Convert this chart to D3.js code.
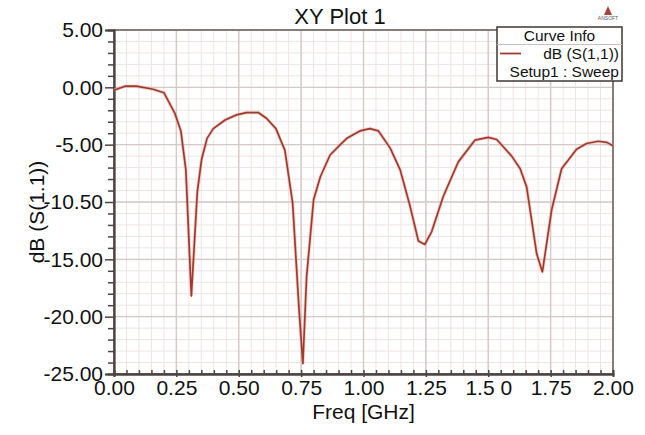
<!DOCTYPE html>
<html>
<head>
<meta charset="utf-8">
<script src="https://cdn.jsdelivr.net/npm/d3@7"></script>
<style>
  body { margin: 0; background: #fff; }
  svg { display: block; }
</style>
</head>
<body>
<div id="chart"></div>
<script>
// Data
var freqs = [0.000, 0.044, 0.090, 0.157, 0.200, 0.244, 0.268, 0.288, 0.310, 0.334, 0.351, 0.373, 0.398, 0.445, 0.491, 0.531,
             0.578, 0.611, 0.649, 0.685, 0.716, 0.742, 0.757, 0.772, 0.800, 0.827, 0.866, 0.907, 0.933, 0.986, 1.026,
             1.060, 1.107, 1.147, 1.187, 1.220, 1.246, 1.273, 1.320, 1.380, 1.447, 1.500, 1.534, 1.594, 1.628, 1.654,
             1.694, 1.717, 1.754, 1.794, 1.854, 1.894, 1.941, 1.975, 2.000];
var s11 = [-0.25, 0.10, 0.10, -0.17, -0.47, -2.27, -3.80, -7.20, -18.20, -9.10, -6.30, -4.45, -3.60, -2.85, -2.40, -2.20,
           -2.20, -2.70, -3.60, -5.50, -10.10, -19.50, -24.10, -16.50, -9.80, -7.80, -5.90, -5.00, -4.45, -3.80, -3.60,
           -3.80, -5.30, -7.20, -10.40, -13.40, -13.70, -12.60, -9.50, -6.50, -4.60, -4.36, -4.55, -6.00, -7.10, -8.70,
           -14.50, -16.10, -10.70, -7.10, -5.40, -4.90, -4.70, -4.80, -5.10];

var xTickValues = [0, 0.25, 0.5, 0.75, 1.0, 1.25, 1.5, 1.75, 2.0];
var xTickLabels = ['0.00', '0.25', '0.50', '0.75', '1.00', '1.25', '1.5 0', '1.75', '2.00'];
var yTickValues = [5, 0, -5, -10, -15, -20, -25];
var yTickLabels = ['5.00', '0.00', '-5.00', '-10.50', '-15.00', '-20.00', '-25.00'];
var legendLines = ['Curve Info', 'dB (S(1,1))', 'Setup1 : Sweep'];

var attrs = {
  svgWidth: 645,
  svgHeight: 435,
  marginTop: 30,
  marginLeft: 114,
  marginRight: 32,
  marginBottom: 61,
  curveColor: '#a03a2c',
  axisColor: '#4d4340',
  majorGrid: '#d6c9c6',
  minorGrid: '#ede5e3',
  font: 'Liberation Sans, Arial, sans-serif'
};

var calc = {};
calc.width = attrs.svgWidth - attrs.marginLeft - attrs.marginRight;
calc.height = attrs.svgHeight - attrs.marginTop - attrs.marginBottom;

var x = d3.scaleLinear().domain([0, 2]).range([0, calc.width]);
var y = d3.scaleLinear().domain([-25, 5]).range([calc.height, 0]);

var svg = d3.select('#chart').append('svg')
  .attr('width', attrs.svgWidth)
  .attr('height', attrs.svgHeight)
  .attr('font-family', attrs.font);

var chart = svg.append('g')
  .attr('transform', 'translate(' + attrs.marginLeft + ',' + attrs.marginTop + ')');

// grid (minor every 0.05 GHz / 1 dB, major on labelled ticks)
var xMinor = d3.range(0, 2.0001, 0.05);
var yMinor = d3.range(-25, 5.0001, 1);

chart.append('g').selectAll('line').data(xMinor).enter().append('line')
  .attr('x1', d => x(d)).attr('x2', d => x(d))
  .attr('y1', 0).attr('y2', calc.height)
  .attr('stroke', attrs.minorGrid).attr('stroke-width', 1);
chart.append('g').selectAll('line').data(yMinor).enter().append('line')
  .attr('y1', d => y(d)).attr('y2', d => y(d))
  .attr('x1', 0).attr('x2', calc.width)
  .attr('stroke', attrs.minorGrid).attr('stroke-width', 1);
chart.append('g').selectAll('line').data(xTickValues).enter().append('line')
  .attr('x1', d => x(d)).attr('x2', d => x(d))
  .attr('y1', 0).attr('y2', calc.height)
  .attr('stroke', attrs.majorGrid).attr('stroke-width', 1.4);
chart.append('g').selectAll('line').data(yTickValues).enter().append('line')
  .attr('y1', d => y(d)).attr('y2', d => y(d))
  .attr('x1', 0).attr('x2', calc.width)
  .attr('stroke', attrs.majorGrid).attr('stroke-width', 1.4);

// border
chart.append('rect')
  .attr('width', calc.width).attr('height', calc.height)
  .attr('fill', 'none').attr('stroke', '#6a605d').attr('stroke-width', 1.5);

// y axis
chart.append('g')
  .call(d3.axisLeft(y).tickValues(yTickValues).tickSize(9).tickFormat((d, i) => yTickLabels[i]).tickPadding(2));
chart.append('g')
  .call(d3.axisLeft(y).tickValues(yMinor.filter(d => yTickValues.indexOf(d) < 0)).tickSize(6).tickFormat(''));

// x axis
chart.append('g')
  .attr('transform', 'translate(0,' + calc.height + ')')
  .call(d3.axisBottom(x).tickValues(xTickValues).tickSize(3).tickFormat((d, i) => xTickLabels[i]).tickPadding(3));
chart.append('g')
  .attr('transform', 'translate(0,' + calc.height + ')')
  .call(d3.axisTop(x).tickValues(xMinor).tickSize(4).tickFormat(''));

chart.selectAll('.domain').attr('stroke', attrs.axisColor).attr('stroke-width', 1.8);
chart.selectAll('.tick line').attr('stroke', attrs.axisColor).attr('stroke-width', 1.5);
chart.selectAll('.tick text')
  .attr('font-family', attrs.font)
  .attr('font-size', 21)
  .attr('fill', '#111');

// curve
var line = d3.line()
  .x((d, i) => x(freqs[i]))
  .y(d => y(d));

chart.append('path')
  .datum(s11)
  .attr('fill', 'none')
  .attr('stroke', '#e3a89f')
  .attr('stroke-opacity', 0.5)
  .attr('stroke-width', 3.5)
  .attr('d', line);
chart.append('path')
  .datum(s11)
  .attr('fill', 'none')
  .attr('stroke', attrs.curveColor)
  .attr('stroke-width', 1.7)
  .attr('stroke-linejoin', 'round')
  .attr('d', line);

// titles
svg.append('text')
  .attr('x', 340).attr('y', 24)
  .attr('text-anchor', 'middle')
  .attr('font-size', 22)
  .attr('fill', '#111')
  .text('XY Plot 1');

svg.append('text')
  .attr('x', attrs.marginLeft + calc.width / 2).attr('y', 419)
  .attr('text-anchor', 'middle')
  .attr('font-size', 21)
  .attr('fill', '#111')
  .text('Freq [GHz]');

svg.append('text')
  .attr('transform', 'translate(44,' + (attrs.marginTop + calc.height / 2 + 10) + ') rotate(-90)')
  .attr('text-anchor', 'middle')
  .attr('font-size', 21)
  .attr('fill', '#111')
  .text('dB (S(1.1))');

// legend
var legend = svg.append('g').attr('transform', 'translate(497,27)');
legend.append('rect')
  .attr('width', 125).attr('height', 54)
  .attr('fill', '#fff').attr('stroke', '#3e3634').attr('stroke-width', 1.5);
legend.append('line')
  .attr('x1', 0).attr('x2', 125).attr('y1', 17.5).attr('y2', 17.5)
  .attr('stroke', '#c9c0be').attr('stroke-width', 1);
legend.append('text')
  .attr('x', 62.5).attr('y', 14)
  .attr('text-anchor', 'middle').attr('font-size', 15.5).attr('fill', '#111')
  .text(legendLines[0]);
legend.append('line')
  .attr('x1', 3).attr('x2', 24).attr('y1', 26.5).attr('y2', 26.5)
  .attr('stroke', attrs.curveColor).attr('stroke-width', 1.8);
legend.append('text')
  .attr('x', 122).attr('y', 32)
  .attr('text-anchor', 'end').attr('font-size', 15.5).attr('fill', '#111')
  .text(legendLines[1]);
legend.append('text')
  .attr('x', 122).attr('y', 50)
  .attr('text-anchor', 'end').attr('font-size', 15.5).attr('fill', '#111')
  .text(legendLines[2]);

// small logo
var logo = svg.append('g').attr('transform', 'translate(608,0)');
logo.append('path')
  .attr('d', 'M0,6 L-4,15 L4,15 Z')
  .attr('fill', '#a5443a');
logo.append('text')
  .attr('x', 0).attr('y', 20)
  .attr('text-anchor', 'middle').attr('font-size', 5).attr('fill', '#555')
  .text('ANSOFT');
</script>
</body>
</html>
